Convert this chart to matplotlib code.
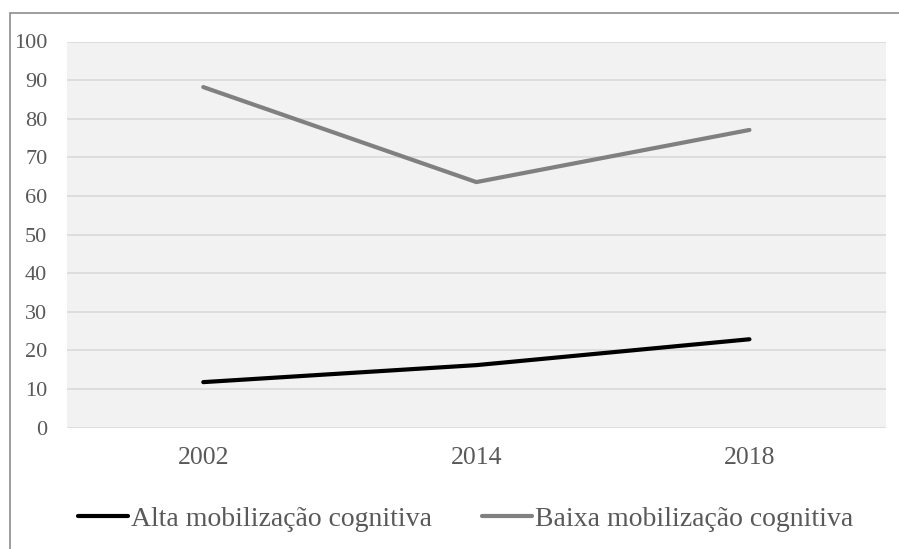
import matplotlib.pyplot as plt
from matplotlib.patches import Rectangle

years = ['2002', '2014', '2018']
alta = [11.8, 16.2, 22.9]
baixa = [88.2, 63.6, 77.1]
yticks = list(range(0, 101, 10))

plt.rcParams['font.family'] = ['Liberation Serif', 'DejaVu Serif']

fig = plt.figure(figsize=(8.99, 5.49), dpi=100)
ax = fig.add_axes([66.7 / 899, 1 - 427.7 / 549, (886 - 66.7) / 899, (427.7 - 41.5) / 549])

# outer chart frame (only top and left edges visible)
fig.patches.append(Rectangle((9.5 / 899, -0.1), 1.2, 1.1 - 13.5 / 549,
                             transform=fig.transFigure, fill=False,
                             edgecolor='#8c8c8c', linewidth=1.2))

ax.set_facecolor('#f2f2f2')
x = range(len(years))
l1, = ax.plot(x, alta, color='black', linewidth=3, solid_capstyle='round',
              label='Alta mobilização cognitiva')
l2, = ax.plot(x, baixa, color='#808080', linewidth=3, solid_capstyle='round',
              label='Baixa mobilização cognitiva')

ax.set_xlim(-0.5, 2.5)
ax.set_ylim(0, 100)
ax.set_yticks(yticks)
ax.set_xticks(list(x))
ax.set_xticklabels(years)
ax.yaxis.grid(True, color='#d9d9d9', linewidth=1.2)
ax.set_axisbelow(True)
for s in ax.spines.values():
    s.set_visible(False)
ax.tick_params(axis='both', length=0, colors='#595959')
ax.tick_params(axis='y', pad=14, labelsize=16)
ax.tick_params(axis='x', pad=14, labelsize=18.5)

fig.legend(handles=[l1, l2], loc='center', bbox_to_anchor=(0.518, 1 - 519 / 549),
           ncol=2, frameon=False, fontsize=20, handlelength=1.8,
           handletextpad=0.1, columnspacing=1.8, labelcolor='#595959')

fig.savefig('out.png', dpi=100)
